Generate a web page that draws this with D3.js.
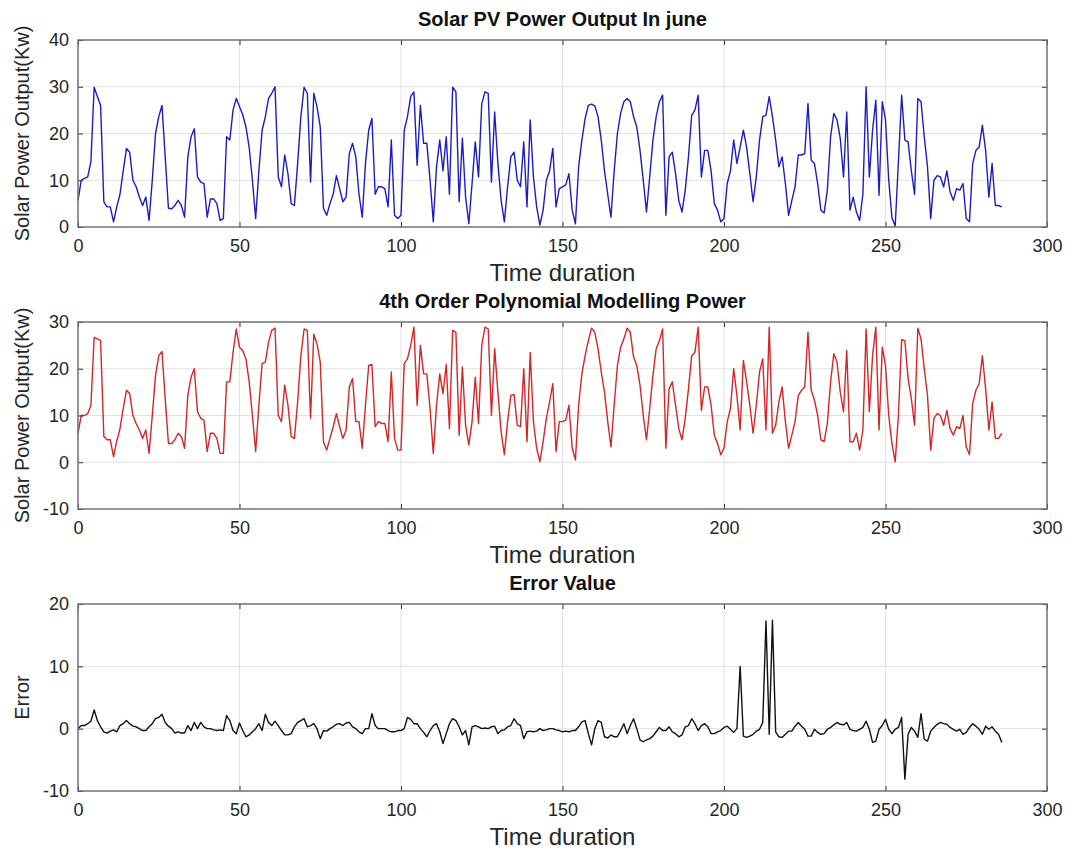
<!DOCTYPE html>
<html>
<head>
<meta charset="utf-8">
<script src="https://cdn.jsdelivr.net/npm/d3@7"></script>
<style>
  body { margin: 0; background: #fff; }
  text { font-family: "Liberation Sans", Arial, Helvetica, sans-serif; }
</style>
</head>
<body>
<div id="chart"></div>
<script>
// measured PV output (Kw), one sample per time step
const measured = [
  5.7, 10, 10.4, 10.7, 14, 29.9, 27.9, 26, 5.4, 4.3,
  4.3, 1.1, 4.3, 7, 12, 16.8, 16, 10, 8.6, 6.4,
  4.6, 6.4, 1.4, 10, 20, 23.6, 26, 15, 4, 3.9,
  4.6, 5.7, 4.6, 2.1, 15, 19.3, 21, 10.7, 9.6, 9.3,
  2.1, 6, 6, 5, 1.4, 1.8, 19.3, 18.6, 25, 27.5,
  25.7, 24, 21.4, 17, 10, 1.8, 12, 20.7, 23.6, 27.5,
  28.6, 30, 10.7, 8.6, 15.4, 11.4, 5, 4.6, 13.6, 23.6,
  29.9, 28.6, 9.6, 28.6, 25.7, 21.4, 4, 2.5, 5, 7,
  11, 8.2, 5.4, 6.4, 15.7, 17.9, 15, 7, 2.1, 13.6,
  20.7, 23.2, 7, 8.6, 8.6, 8.2, 4.3, 18.6, 2.5, 1.8,
  2.5, 20.7, 23.6, 27.9, 28.9, 13.2, 26, 17.9, 17.9, 10,
  1.1, 12.9, 18.6, 12, 19.3, 7, 29.9, 28.9, 5.4, 19,
  6.4, 0.7, 9.3, 18.2, 10.7, 26.4, 28.9, 28.6, 9.6, 24.6,
  13.6, 5.7, 1.1, 8.6, 15, 16, 10, 8.6, 18.2, 4.3,
  22.9, 10.7, 4.3, 0.4, 3.6, 10, 12, 16.8, 4.3, 8.2,
  8.6, 9, 11.4, 3.6, 0.7, 12.9, 18.6, 23.2, 26, 26.3,
  25.9, 23.6, 18.6, 12, 7, 2.1, 12, 20, 24.3, 26.8,
  27.5, 26.8, 23.6, 21.4, 16.4, 10, 3.2, 10.7, 18.6, 23.6,
  26.8, 28.2, 2.5, 15, 16, 11.4, 5.7, 3.2, 7.9, 15,
  23.9, 25, 28.2, 10.7, 16.4, 16.4, 12, 5, 3.6, 1.1,
  1.8, 9.3, 12, 18.6, 13.6, 17.1, 20.7, 17.1, 11.4, 5.4,
  10.7, 18.6, 23.6, 23.9, 27.9, 23.6, 18.6, 12.9, 15, 9.3,
  2.5, 5.7, 8.6, 15.4, 15.4, 15.7, 26.4, 14.3, 13.6, 9.3,
  3.6, 3, 7.9, 19.3, 24.3, 22.9, 18.9, 10.7, 24.6, 3.6,
  6.4, 3.2, 1.4, 7, 30, 10.7, 20.7, 27.1, 6.8, 26.8,
  22.9, 10, 2, 0.2, 14, 28.2, 18.6, 18.2, 12, 7,
  27.5, 26.8, 19.3, 12.9, 1.8, 10, 11, 10.7, 8.6, 12,
  7.5, 5.7, 8.2, 7.9, 9.3, 1.8, 1.1, 13.6, 16.4, 17.1,
  21.8, 16.4, 6.4, 13.6, 4.6, 4.6, 4.3
];

// 4th order polynomial model output (Kw)
const modelled = [
  6.2, 10, 10, 10.4, 12.2, 26.7, 26.4, 26, 5.5, 4.8,
  4.8, 1.2, 4.5, 7.2, 11.5, 15.4, 14.7, 10, 8.3, 6.9,
  5.1, 6.9, 1.9, 10, 18.6, 22.8, 23.7, 13.6, 4, 4,
  4.8, 6.2, 5.5, 3, 14.3, 18.2, 20, 10.8, 9.4, 9,
  2.3, 6.2, 6.2, 5.1, 1.9, 1.9, 17.2, 17.2, 23.5, 28.5,
  24.6, 23.9, 22.1, 17.2, 10, 2.3, 12.2, 21.1, 21.4, 25.7,
  28.2, 28.7, 10, 8.7, 16.5, 12.2, 5.5, 5.1, 12.9, 22.8,
  28.5, 28.2, 9.4, 27.4, 25.3, 21.4, 4.4, 2.6, 5.1, 7.6,
  10.4, 7.6, 5.1, 6.9, 16.1, 17.9, 8.7, 8.7, 3, 12.2,
  20.7, 20.9, 7.6, 8.7, 8.3, 8.3, 4.4, 19.3, 5.1, 2.6,
  2.6, 21.1, 22.1, 25, 28.9, 12.2, 25, 18.9, 18.9, 11.5,
  1.9, 12.2, 18.9, 14.7, 20.9, 7.2, 28.2, 27.8, 5.8, 20.4,
  7.9, 3.7, 8.7, 18.2, 8.3, 25, 28.9, 28.5, 10, 24.3,
  15, 6.5, 1.6, 8.7, 14.3, 14.5, 7.9, 7.6, 20, 4.4,
  23.5, 8.7, 3, 0.1, 4.4, 9.4, 12.9, 16.8, 2.3, 8.7,
  8.7, 9, 12.2, 3, 0.5, 12.2, 18.9, 22.8, 26, 28.7,
  27.8, 24.3, 19.3, 15, 8.7, 3.3, 12.2, 20.7, 24.6, 26.4,
  28.7, 27.8, 22.5, 20.7, 16.5, 10, 4.8, 11.5, 18.6, 24.3,
  26, 28.5, 3, 15.7, 17.2, 12.2, 7.2, 4.8, 9.4, 15.7,
  22.8, 23.5, 28.9, 11.1, 16.1, 16.1, 12.2, 5.8, 4, 1.6,
  3, 8.7, 11.5, 20, 14.3, 6.9, 21.8, 17.2, 12.2, 6.2,
  12.2, 19.3, 22.1, 6.9, 28.9, 6.2, 7.9, 12.9, 16.1, 8.7,
  3, 5.8, 8.7, 14.3, 15.4, 16.1, 27.8, 15.4, 13.3, 10,
  4.8, 4.4, 8.3, 17.2, 23.2, 21.4, 15, 10.8, 23.9, 4.4,
  4.4, 6.2, 2.6, 6.9, 28.5, 10.8, 22.8, 28.9, 6.9, 24.6,
  20.7, 10, 4, 0.1, 10, 26.2, 26, 17.9, 13.6, 7.9,
  28.7, 26.4, 20, 14.3, 2.6, 9.4, 10.4, 10, 7.9, 11.1,
  7.2, 5.8, 7.6, 7.2, 10, 3.3, 1.6, 12.6, 15.4, 16.8,
  22.8, 15.7, 6.9, 12.9, 5.1, 5.1, 6.2
];

// error between measured and modelled output
const errorVals = [
  0, 0.5, 0.5, 0.8, 1.2, 3.0, 1.3, 0.3, -0.5, -0.7,
  -0.4, -0.2, -0.5, 0.5, 0.8, 1.3, 0.8, 0.4, 0.3, 0,
  -0.3, -0.3, 0.3, 0.8, 1.6, 1.8, 2.3, 1.0, 0.4, 0,
  -0.7, -0.5, -0.7, -0.7, 0.5, -0.3, 1.0, 0, 1.0, 0.3,
  0, 0, -0.2, -0.3, -0.2, -0.3, 2.1, 1.3, -0.3, -0.8,
  0.9, -0.3, -1.3, -1.0, -0.5, 0, 0.8, -0.3, 2.3, 1.0,
  0.5, 1.2, 0.5, -0.3, -1.0, -1.0, -0.8, 0.3, 1.0, 1.3,
  1.6, 0.3, 0.5, 0.8, 0, -1.6, -0.3, -0.4, 0, 0.3,
  0.7, 0.8, 0.5, 0.9, 1.0, 0.3, 0, -0.5, -0.8, 0,
  0, 2.4, 0.5, 0, 0, 0, -0.3, -0.5, -0.5, -0.3,
  -0.3, 0, 1.8, 1.5, 0.8, 0.8, 0, -0.6, -1.3, -0.3,
  0.5, 0.8, -0.5, -2.4, -0.8, 0.8, 1.6, 1.3, 0.3, -1.0,
  -0.3, -2.6, 0.3, 0.5, 0.3, 0, 0.1, 0, 0.3, 0.4,
  -0.8, -0.3, -0.2, 0.3, 0.5, 1.6, 0.8, 0.5, -1.6, -0.5,
  -0.4, -0.5, -0.4, 0, -0.3, -0.2, 0, 0, -0.2, -0.3,
  -0.5, -0.4, -0.5, -0.3, -0.3, 0.3, 1.1, 1.3, -0.8, -2.6,
  0, 1.3, 1.0, -1.3, -1.5, -1.0, -1.3, -1.3, -0.3, 0.8,
  -0.8, 0.5, 1.6, 0, -1.8, -2.1, -1.8, -1.6, -1.2, -0.5,
  0.2, -0.3, -0.3, 0.3, -0.5, -0.8, -1.3, -1.0, 0.3, 0.5,
  1.6, 0.8, -0.3, 0.5, 0.8, 0.3, -0.8, -0.8, -0.5, -0.3,
  0.2, 0.4, -0.1, -0.6, 0, 10, -1.2, -1.4, -1.2, -0.9,
  -0.4, -0.1, 1, 17.3, -0.9, 17.4, -0.5, -1.3, -1.4, -0.9,
  -0.4, -0.4, 0.4, 1, 0.4, -0.1, -1.2, -1.2, -0.1, -0.6,
  -0.9, -0.8, -0.1, 0.2, 0.6, 1, 0.7, 0.6, 1, -0.1,
  -0.3, -0.4, -0.1, 0.2, 1.2, -0.1, -2.2, -2, -0.1, 0.5,
  1.5, -0.1, -0.8, -0.1, 0.2, 1.8, -8.1, -0.9, 0.2, -0.4,
  -1.4, 2.4, -1.7, -2, -0.4, 0.2, 0.7, 1, 0.8, 0.7,
  0.2, -0.1, -0.4, -0.1, -0.9, -0.6, 0.2, 0.8, 0.4, -0.1,
  -0.9, 0.4, -0.1, 0.3, -0.4, -0.9, -2.2
];

const xTicks = [0, 50, 100, 150, 200, 250, 300];
const pvTicks = [0, 10, 20, 30, 40];
const polyTicks = [-10, 0, 10, 20, 30];
const errTicks = [-10, 0, 10, 20];

// set the dimensions and margins of the graph
const margin = {left: 78, right: 25},
    width = 1072 - margin.left - margin.right,
    height = 187;

const svg = d3.select("#chart")
  .append("svg")
    .attr("width", 1072)
    .attr("height", 853);

const x = d3.scaleLinear()
  .domain([0, 300])
  .range([0, width]);

// plain hyphen for negatives, like the original figure
const fmt = d => String(d);

const panels = [
  {top: 40, title: "Solar PV Power Output In june", ylabel: "Solar Power Output(Kw)",
   values: measured, ticks: pvTicks, color: "#1c1cc4"},
  {top: 322, title: "4th Order Polynomial Modelling Power", ylabel: "Solar Power Output(Kw)",
   values: modelled, ticks: polyTicks, color: "#d42626"},
  {top: 604, title: "Error Value", ylabel: "Error",
   values: errorVals, ticks: errTicks, color: "#111111"}
];

panels.forEach(p => {
  const g = svg.append("g")
    .attr("transform", `translate(${margin.left},${p.top})`);

  const y = d3.scaleLinear()
    .domain(d3.extent(p.ticks))
    .range([height, 0]);

  // grid lines
  g.append("g")
    .selectAll("line")
    .data(xTicks.slice(1, -1))
    .join("line")
      .attr("x1", d => x(d)).attr("x2", d => x(d))
      .attr("y1", 0).attr("y2", height)
      .attr("stroke", "#e2e2e2");
  g.append("g")
    .selectAll("line")
    .data(p.ticks.slice(1, -1))
    .join("line")
      .attr("x1", 0).attr("x2", width)
      .attr("y1", d => y(d)).attr("y2", d => y(d))
      .attr("stroke", "#e2e2e2");

  // the series
  g.append("path")
    .datum(p.values)
    .attr("fill", "none")
    .attr("stroke", p.color)
    .attr("stroke-width", 1.4)
    .attr("stroke-linejoin", "round")
    .attr("d", d3.line().x((d, i) => x(i)).y(d => y(d)));

  // axes, ticks pointing inward (box on)
  const bottom = g.append("g")
    .attr("transform", `translate(0,${height})`)
    .call(d3.axisBottom(x).tickValues(xTicks).tickFormat(fmt).tickSizeInner(-5).tickSizeOuter(0).tickPadding(12));
  const left = g.append("g")
    .call(d3.axisLeft(y).tickValues(p.ticks).tickFormat(fmt).tickSizeInner(-5).tickSizeOuter(0).tickPadding(9));
  g.append("g")
    .call(d3.axisTop(x).tickValues(xTicks).tickSizeInner(-5).tickSizeOuter(0).tickFormat(""));
  g.append("g")
    .attr("transform", `translate(${width},0)`)
    .call(d3.axisRight(y).tickValues(p.ticks).tickSizeInner(-5).tickSizeOuter(0).tickFormat(""));

  g.selectAll(".domain").remove();
  g.selectAll(".tick line").attr("stroke", "#333");
  [bottom, left].forEach(a => a.selectAll("text")
    .style("font-size", "18px")
    .attr("fill", "#262626"));

  // box
  g.append("rect")
    .attr("width", width)
    .attr("height", height)
    .attr("fill", "none")
    .attr("stroke", "#707070")
    .attr("stroke-width", 1.5);

  // title
  g.append("text")
    .attr("x", width / 2)
    .attr("y", -14)
    .attr("text-anchor", "middle")
    .style("font-size", "20px")
    .style("font-weight", "bold")
    .attr("fill", "#111")
    .text(p.title);

  // x label
  g.append("text")
    .attr("x", width / 2)
    .attr("y", height + 54)
    .attr("text-anchor", "middle")
    .style("font-size", "24px")
    .attr("fill", "#262626")
    .text("Time duration");

  // y label
  g.append("text")
    .attr("transform", `translate(${29 - margin.left},${height / 2}) rotate(-90)`)
    .attr("text-anchor", "middle")
    .style("font-size", "20px")
    .attr("fill", "#262626")
    .text(p.ylabel);
});
</script>
</body>
</html>
